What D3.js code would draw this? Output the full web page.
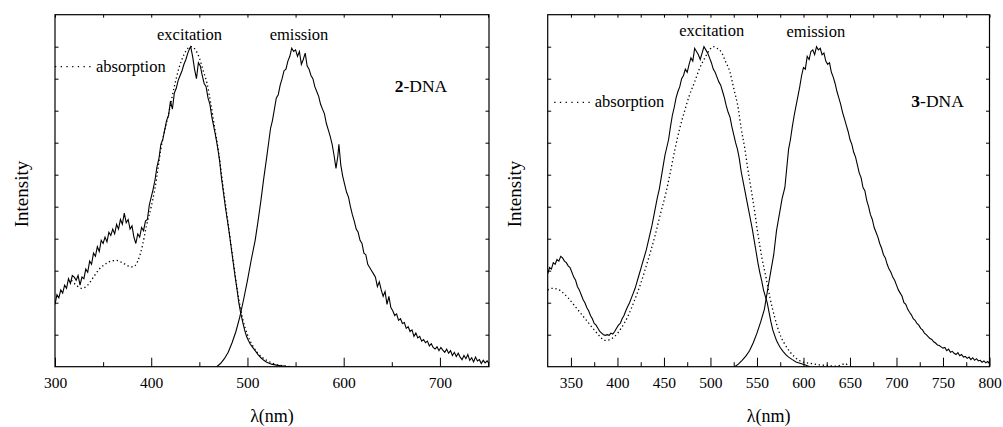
<!DOCTYPE html>
<html>
<head>
<meta charset="utf-8">
<script src="https://cdn.jsdelivr.net/npm/d3@7"></script>
<style>
  body { margin: 0; background: #fff; }
  svg text { font-family: "Liberation Serif", "Times New Roman", serif; fill: #000; }
</style>
</head>
<body>
<div id="chart"></div>
<script>
// Datos: [longitud de onda (nm), intensidad]
const exc2 = [[300,1.95],[302,2.25],[304,2.15],[306,2.4],[308,2.3],[310,2.55],[312,2.45],[314,2.75],[316,2.6],[318,2.85],[320,2.8],[322,2.7],[324,2.85],[326,2.55],[328,2.8],[330,2.75],[332,3.05],[334,2.95],[336,3.3],[338,3.2],[340,3.55],[342,3.45],[344,3.75],[346,3.6],[348,3.95],[350,3.85],[352,4.05],[354,3.9],[356,4.2],[358,4.1],[360,4.3],[362,4.15],[364,4.45],[366,4.3],[368,4.6],[370,4.45],[372,4.8],[374,4.5],[376,4.6],[378,4.3],[380,4.4],[382,4.05],[384,3.85],[386,4.15],[388,4.05],[390,4.35],[392,4.25],[394,4.55],[396,4.6],[398,5.05],[400,5.3],[402,5.55],[404,5.85],[406,6.25],[408,6.5],[410,6.95],[412,7.1],[414,7.4],[416,7.7],[418,7.85],[420,8.3],[422,8.05],[424,8.55],[426,8.7],[428,8.95],[430,9.1],[432,9.25],[434,9.45],[436,9.6],[438,9.8],[440,9.95],[441,10.0],[443,9.7],[445,9.3],[447,9.0],[449,9.5],[451,9.4],[453,9.1],[455,8.85],[457,8.75],[459,8.4],[461,8.2],[463,7.8],[465,7.5],[467,7.2],[469,6.85],[471,6.45],[473,5.9],[475,5.45],[477,5.0],[479,4.6],[481,4.2],[483,3.75],[485,3.3],[487,2.85],[489,2.45],[491,2.0],[493,1.67],[495,1.4],[497,1.15],[499,0.95],[501,0.82],[503,0.7],[505,0.62],[508,0.5],[511,0.38],[514,0.28],[517,0.2],[520,0.14],[525,0.08],[530,0.05],[535,0.03],[540,0.01],[545,0.0]];

const abs2 = [[317,2.7],[322,2.55],[328,2.45],[334,2.55],[340,2.8],[346,3.05],[352,3.2],[358,3.3],[364,3.32],[370,3.25],[376,3.15],[381,3.12],[386,3.3],[391,3.8],[395,4.4],[400,5.0],[404,5.6],[410,6.8],[418,7.9],[424,8.75],[429,9.35],[434,9.75],[438,9.95],[442,10.0],[446,9.9],[450,9.65],[454,9.25],[458,8.85],[462,8.2],[466,7.45],[470,6.7],[475,5.55],[480,4.45],[485,3.35],[490,2.3],[495,1.5],[500,1.0],[505,0.68],[510,0.45],[515,0.3],[520,0.2],[525,0.12],[530,0.07],[537,0.03],[545,0.0]];

const emi2 = [[468,0],[472,0.1],[476,0.25],[480,0.45],[484,0.75],[488,1.1],[492,1.55],[496,2.1],[500,2.7],[504,3.35],[508,3.95],[511,4.55],[514,5.2],[517,5.9],[520,6.55],[522,7.0],[524,7.45],[526,7.7],[528,8.05],[530,8.4],[532,8.5],[534,8.8],[536,9.0],[538,9.25],[540,9.3],[542,9.55],[544,9.7],[546,9.95],[548,9.85],[550,9.9],[552,9.7],[554,9.85],[556,9.45],[558,9.6],[560,9.8],[562,9.4],[564,9.3],[566,9.1],[568,9.0],[570,8.75],[572,8.6],[574,8.45],[576,8.2],[578,8.05],[580,7.9],[582,7.6],[584,7.4],[586,7.2],[588,6.95],[590,6.6],[592,6.2],[594,6.6],[595,6.95],[597,6.3],[599,5.95],[601,5.7],[603,5.45],[605,5.3],[607,5.0],[609,4.75],[611,4.55],[613,4.3],[615,4.2],[617,3.95],[619,3.85],[621,3.55],[623,3.5],[625,3.2],[627,3.1],[629,3.0],[631,2.9],[633,2.8],[635,2.5],[637,2.65],[639,2.4],[641,2.2],[643,2.35],[645,1.95],[647,2.2],[649,1.85],[651,1.75],[653,1.6],[655,1.65],[657,1.45],[659,1.5],[661,1.35],[663,1.38],[665,1.2],[667,1.25],[669,1.1],[671,1.15],[673,0.95],[675,1.05],[677,0.9],[679,0.95],[681,0.8],[683,0.85],[685,0.75],[687,0.8],[689,0.65],[691,0.72],[693,0.6],[695,0.55],[697,0.62],[699,0.5],[701,0.6],[703,0.52],[705,0.45],[707,0.55],[709,0.42],[711,0.5],[713,0.35],[715,0.45],[717,0.32],[719,0.42],[721,0.3],[723,0.22],[725,0.35],[727,0.25],[729,0.38],[731,0.2],[733,0.28],[735,0.15],[737,0.3],[739,0.18],[741,0.22],[743,0.1],[745,0.2],[747,0.12],[749,0.18],[751,0.1]];

const exc3 = [[325,2.9],[327,3.1],[329,3.05],[331,3.25],[333,3.2],[335,3.35],[337,3.3],[339,3.45],[341,3.4],[343,3.3],[345,3.25],[347,3.15],[349,3.1],[351,2.95],[353,2.8],[355,2.7],[357,2.5],[359,2.4],[361,2.25],[363,2.1],[365,2.0],[367,1.85],[369,1.75],[371,1.6],[373,1.5],[375,1.35],[377,1.3],[379,1.2],[381,1.1],[383,1.05],[385,1.0],[387,0.98],[389,1.0],[391,0.98],[393,1.05],[395,1.02],[397,1.1],[399,1.2],[401,1.3],[403,1.35],[405,1.5],[407,1.6],[409,1.75],[411,1.88],[413,2.0],[415,2.15],[417,2.3],[419,2.45],[421,2.65],[423,2.85],[425,3.05],[427,3.25],[429,3.45],[431,3.65],[433,3.9],[435,4.15],[437,4.4],[439,4.7],[441,5.0],[443,5.3],[445,5.55],[447,5.9],[449,6.25],[451,6.6],[453,6.85],[455,7.1],[457,7.5],[459,7.85],[461,8.1],[463,8.4],[465,8.6],[467,8.75],[469,9.0],[471,9.1],[473,9.3],[475,9.2],[477,9.45],[479,9.65],[481,9.55],[483,9.95],[485,9.85],[487,9.75],[489,9.6],[491,9.8],[493,10.0],[495,9.9],[497,9.8],[499,9.65],[501,9.5],[503,9.3],[505,9.2],[507,9.05],[509,8.9],[511,8.8],[513,8.6],[515,8.4],[517,8.15],[519,7.95],[521,7.8],[523,7.5],[525,7.25],[527,7.0],[529,6.8],[531,6.5],[533,6.1],[535,5.8],[537,5.5],[539,5.2],[541,4.9],[543,4.6],[545,4.3],[547,3.95],[549,3.6],[551,3.25],[553,2.95],[555,2.7],[557,2.4],[559,2.2],[561,2.0],[563,1.7],[565,1.4],[567,1.15],[569,0.98],[571,0.82],[573,0.7],[575,0.6],[578,0.48],[581,0.38],[584,0.3],[588,0.22],[592,0.15],[597,0.1],[602,0.05],[607,0.0]];

const abs3 = [[325,2.4],[330,2.45],[336,2.42],[341,2.32],[347,2.15],[354,1.9],[361,1.65],[368,1.4],[375,1.15],[381,0.95],[386,0.82],[391,0.84],[397,0.95],[404,1.2],[411,1.56],[418,2.05],[425,2.6],[432,3.25],[440,4.05],[446,4.75],[452,5.42],[457,6.1],[462,6.82],[467,7.45],[472,7.97],[477,8.45],[483,8.9],[488,9.3],[494,9.65],[499,9.9],[503,10.0],[507,9.95],[512,9.82],[516,9.55],[521,9.2],[525,8.7],[530,8.05],[533,7.45],[537,6.8],[540,6.2],[544,5.5],[548,4.75],[551,4.15],[555,3.45],[560,2.75],[564,2.15],[569,1.55],[573,1.15],[576,0.92],[580,0.7],[585,0.48],[590,0.32],[595,0.2],[600,0.14],[608,0.1],[616,0.06],[625,0.04],[634,0.02],[640,0.05],[645,0.1],[648,0.0]];

const emi3 = [[526,0],[530,0.08],[534,0.2],[538,0.33],[542,0.5],[546,0.75],[550,1.05],[554,1.4],[558,1.8],[562,2.5],[565,3.0],[568,3.5],[571,4.25],[574,4.75],[577,5.25],[580,5.6],[582,6.2],[584,6.8],[586,7.1],[588,7.5],[590,7.85],[592,8.15],[594,8.45],[596,8.75],[598,9.1],[600,9.35],[602,9.3],[604,9.7],[606,9.6],[608,9.85],[610,9.9],[612,9.75],[614,10.0],[616,9.9],[618,9.95],[620,9.75],[622,9.8],[624,9.55],[626,9.45],[628,9.5],[630,9.2],[632,9.05],[634,8.85],[636,8.6],[638,8.4],[640,8.2],[642,7.95],[644,7.75],[646,7.55],[648,7.35],[650,7.1],[652,6.95],[654,6.7],[656,6.55],[658,6.3],[660,6.05],[662,5.9],[664,5.6],[666,5.5],[668,5.2],[670,5.0],[672,4.75],[674,4.6],[676,4.35],[678,4.2],[680,4.05],[682,3.85],[684,3.7],[686,3.5],[688,3.4],[690,3.2],[692,3.05],[694,2.95],[696,2.8],[698,2.7],[700,2.55],[702,2.4],[704,2.3],[706,2.2],[708,2.0],[710,1.95],[712,1.8],[714,1.7],[716,1.62],[718,1.5],[720,1.45],[722,1.35],[724,1.3],[726,1.2],[728,1.15],[730,1.05],[732,1.0],[734,0.94],[736,0.88],[738,0.85],[740,0.78],[742,0.74],[744,0.68],[746,0.66],[748,0.62],[750,0.58],[752,0.6],[754,0.5],[756,0.55],[758,0.45],[760,0.48],[762,0.42],[764,0.38],[766,0.44],[768,0.34],[770,0.38],[772,0.3],[774,0.32],[776,0.26],[778,0.3],[780,0.22],[782,0.28],[784,0.2],[786,0.25],[788,0.18],[790,0.2],[792,0.14],[794,0.18],[796,0.12],[798,0.16],[800,0.1]];

// Ticks
const ticksMajor2 = [300, 400, 500, 600, 700];
const ticksMinor2 = [350, 450, 550, 650, 750];
const ticksMajor3 = [350, 400, 450, 500, 550, 600, 650, 700, 750, 800];
const ticksMinor3 = [375, 425, 475, 525, 575, 625, 675, 725, 775];
const ticksY = [1, 2, 3, 4, 5, 6, 7, 8, 9, 10];

const FONT = '"Liberation Serif", "Times New Roman", serif';

const svg = d3.select("#chart")
    .append("svg")
      .attr("width", 1003)
      .attr("height", 427);

const plotTop = 14.7, plotBottom = 366.7;
let clipId = 0;

function drawPanel(cfg) {
    let x = d3.scaleLinear().domain(cfg.xDomain).range(cfg.xRange);
    let y = d3.scaleLinear().domain([0, 11]).range([plotBottom, plotTop]);
    let g = svg.append("g");
    let id = "clip" + (clipId++);

    g.append("clipPath").attr("id", id)
        .append("rect")
          .attr("x", cfg.xRange[0]).attr("y", plotTop)
          .attr("width", cfg.xRange[1] - cfg.xRange[0])
          .attr("height", plotBottom - plotTop);

    //Curvas
    let lineNoisy = d3.line().x(d => x(d[0])).y(d => y(d[1]));
    let lineSmooth = d3.line().x(d => x(d[0])).y(d => y(d[1])).curve(d3.curveMonotoneX);

    let curves = g.append("g").attr("clip-path", "url(#" + id + ")");
    curves.append("path").datum(cfg.abs)
        .attr("d", lineSmooth)
        .attr("fill", "none").attr("stroke", "#000")
        .attr("stroke-width", 1.3).attr("stroke-dasharray", "1.3,2.7");
    curves.append("path").datum(cfg.exc)
        .attr("d", lineNoisy)
        .attr("fill", "none").attr("stroke", "#000").attr("stroke-width", 1.1);
    curves.append("path").datum(cfg.emi)
        .attr("d", lineNoisy)
        .attr("fill", "none").attr("stroke", "#000").attr("stroke-width", 1.1);

    //Ejes
    g.append("g").attr("transform", "translate(0," + plotBottom + ")")
        .call(d3.axisBottom(x).tickValues(cfg.major).tickSize(-9).tickPadding(10).tickFormat(d3.format("d")))
        .call(a => a.select(".domain").remove())
        .call(a => a.attr("font-family", null))
        .call(a => a.selectAll("text").style("font-size", "15.5px").style("font-family", FONT));
    g.append("g").attr("transform", "translate(0," + plotBottom + ")")
        .call(d3.axisBottom(x).tickValues(cfg.minor).tickSize(-4.5).tickFormat(""))
        .call(a => a.select(".domain").remove());
    g.append("g").attr("transform", "translate(0," + plotTop + ")")
        .call(d3.axisTop(x).tickValues(cfg.major.concat(cfg.minor)).tickSize(-3).tickFormat(""))
        .call(a => a.select(".domain").remove());
    g.append("g").attr("transform", "translate(" + cfg.xRange[0] + ",0)")
        .call(d3.axisLeft(y).tickValues(ticksY).tickSize(-3.5).tickFormat(""))
        .call(a => a.select(".domain").remove());
    g.append("g").attr("transform", "translate(" + cfg.xRange[1] + ",0)")
        .call(d3.axisRight(y).tickValues(ticksY).tickSize(-3.5).tickFormat(""))
        .call(a => a.select(".domain").remove());

    g.selectAll(".tick line").attr("stroke", "#000");

    //Marco
    g.append("rect")
        .attr("x", cfg.xRange[0]).attr("y", plotTop)
        .attr("width", cfg.xRange[1] - cfg.xRange[0])
        .attr("height", plotBottom - plotTop)
        .attr("fill", "none").attr("stroke", "#000").attr("stroke-width", 1.2);

    //Títulos de ejes
    let cx = (cfg.xRange[0] + cfg.xRange[1]) / 2;
    g.append("text")
        .attr("x", cx).attr("y", 422)
        .attr("text-anchor", "middle").attr("font-size", "18px")
        .text("λ(nm)");
    g.append("text")
        .attr("transform", "translate(" + (cfg.xRange[0] - 27) + ",194) rotate(-90)")
        .attr("text-anchor", "middle").attr("font-size", "19px")
        .text("Intensity");

    //Etiquetas
    g.append("text")
        .attr("x", x(cfg.excLabel[0])).attr("y", y(cfg.excLabel[1]))
        .attr("text-anchor", "middle").attr("font-size", "16.5px")
        .text("excitation");
    g.append("text")
        .attr("x", x(cfg.emiLabel[0])).attr("y", y(cfg.emiLabel[1]))
        .attr("text-anchor", "middle").attr("font-size", "16.5px")
        .text("emission");
    g.append("line")
        .attr("x1", x(cfg.absLine[0])).attr("x2", x(cfg.absLine[1]))
        .attr("y1", y(cfg.absLine[2])).attr("y2", y(cfg.absLine[2]))
        .attr("stroke", "#000").attr("stroke-width", 1.3).attr("stroke-dasharray", "1.3,4.4");
    g.append("text")
        .attr("x", x(cfg.absLabel[0])).attr("y", y(cfg.absLabel[1]))
        .attr("font-size", "16.5px")
        .text("absorption");
    let t = g.append("text")
        .attr("x", x(cfg.dnaLabel[0])).attr("y", y(cfg.dnaLabel[1]))
        .attr("font-size", "17.5px");
    t.append("tspan").attr("font-weight", "bold").text(cfg.num);
    t.append("tspan").text("-DNA");
}

drawPanel({
    xDomain: [300, 751], xRange: [55, 489],
    exc: exc2, abs: abs2, emi: emi2,
    major: ticksMajor2, minor: ticksMinor2,
    excLabel: [439.8, 10.22], emiLabel: [553.6, 10.2],
    absLine: [300, 338, 9.375], absLabel: [342.6, 9.2],
    dnaLabel: [653, 8.59], num: "2"
});

drawPanel({
    xDomain: [325, 800], xRange: [547.7, 989.5],
    exc: exc3, abs: abs3, emi: emi3,
    major: ticksMajor3, minor: ticksMinor3,
    excLabel: [501.3, 10.33], emiLabel: [613.3, 10.31],
    absLine: [332, 372, 8.26], absLabel: [375.5, 8.12],
    dnaLabel: [716, 8.12], num: "3"
});
</script>
</body>
</html>
